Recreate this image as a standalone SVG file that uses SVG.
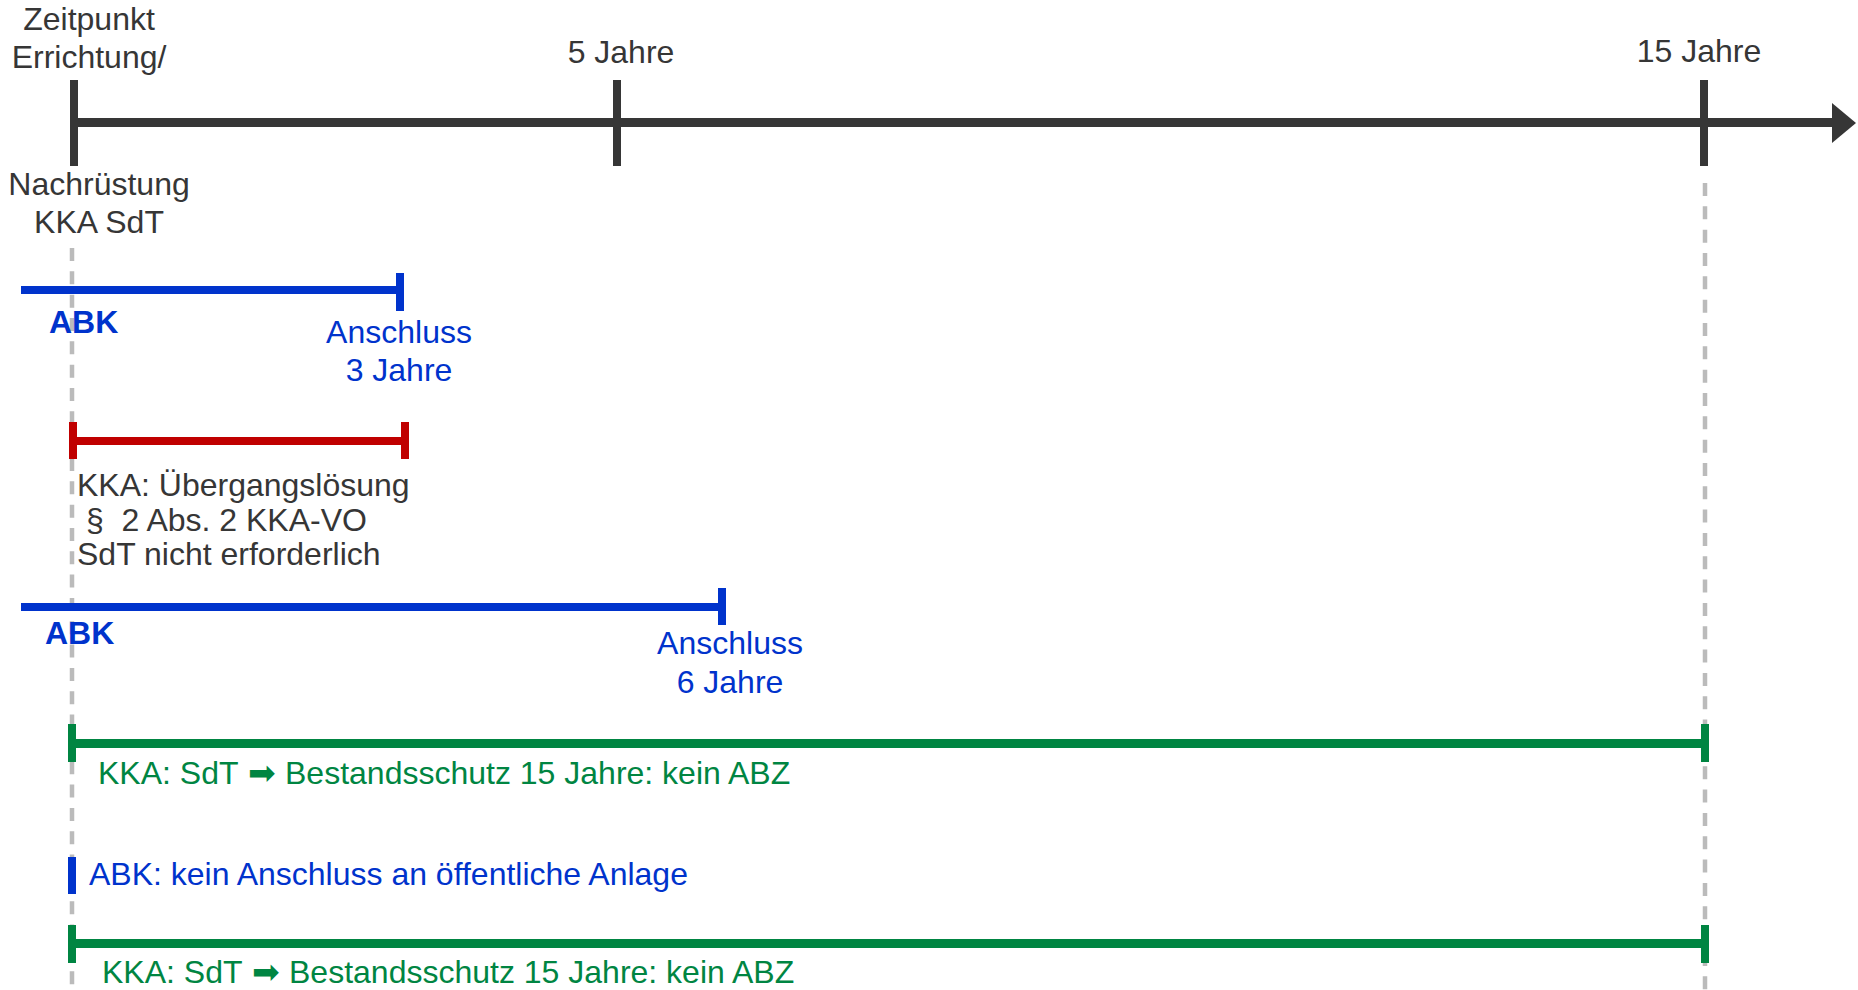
<svg xmlns="http://www.w3.org/2000/svg" width="1858" height="990" viewBox="0 0 1858 990">
  <style>
    text { font-family: "Liberation Sans", Arial, sans-serif; font-size: 32px; }
    .dark { fill: #363636; }
    .blue { fill: #0033cc; }
    .green { fill: #008542; }
    .bold { font-weight: bold; }
    .mid { text-anchor: middle; }
    .arrow { font-family: "DejaVu Sans", sans-serif; font-size: 33px; }
    .guide { stroke: #bbbbbb; stroke-width: 4.5; stroke-dasharray: 13 10.33; fill: none; }
    .axis { fill: #363636; }
    .b { fill: #0033cc; }
    .r { fill: #c00000; }
    .g { fill: #008542; }
  </style>

  <!-- vertical reference guides at start and 15 years -->
  <g id="connectors">
    <line class="guide" x1="72" y1="248" x2="72" y2="990"/>
    <line class="guide" x1="1705" y1="183" x2="1705" y2="990"/>
  </g>

  <!-- time axis -->
  <g id="axis">
    <rect class="axis" x="70" y="118" width="1766" height="9"/>
    <polygon class="axis" points="1832,103 1856,123 1832,143"/>
    <rect class="axis" x="70" y="80" width="8" height="86"/>
    <rect class="axis" x="613" y="80" width="8" height="86"/>
    <rect class="axis" x="1700" y="80" width="8" height="86"/>
    <text class="dark mid" x="89" y="30">Zeitpunkt</text>
    <text class="dark mid" x="89" y="68">Errichtung/</text>
    <text class="dark mid" x="99" y="195">Nachrüstung</text>
    <text class="dark mid" x="99" y="233">KKA SdT</text>
    <text class="dark mid" x="621" y="63">5 Jahre</text>
    <text class="dark mid" x="1699" y="62">15 Jahre</text>
  </g>

  <!-- ABK connection within 3 years -->
  <g id="abk-3">
    <rect class="b" x="21" y="286" width="382" height="8"/>
    <rect class="b" x="396" y="273" width="8" height="38"/>
    <text class="blue bold" x="49" y="333">ABK</text>
    <text class="blue mid" x="399" y="343">Anschluss</text>
    <text class="blue mid" x="399" y="381">3 Jahre</text>
  </g>

  <!-- KKA transitional solution -->
  <g id="kka-uebergang">
    <rect class="r" x="69" y="437" width="340" height="8"/>
    <rect class="r" x="69" y="422" width="8" height="37"/>
    <rect class="r" x="401" y="422" width="8" height="37"/>
    <text class="dark" x="77" y="496">KKA: Übergangslösung</text>
    <text class="dark" x="77" y="531" xml:space="preserve"> §  2 Abs. 2 KKA-VO</text>
    <text class="dark" x="77" y="565">SdT nicht erforderlich</text>
  </g>

  <!-- ABK connection within 6 years -->
  <g id="abk-6">
    <rect class="b" x="21" y="603" width="704" height="8"/>
    <rect class="b" x="718" y="588" width="8" height="37"/>
    <text class="blue bold" x="45" y="644">ABK</text>
    <text class="blue mid" x="730" y="654">Anschluss</text>
    <text class="blue mid" x="730" y="693">6 Jahre</text>
  </g>

  <!-- KKA with SdT: 15 years protection -->
  <g id="kka-sdt-1">
    <rect class="g" x="68" y="739" width="1641" height="9"/>
    <rect class="g" x="68" y="724" width="8" height="38"/>
    <rect class="g" x="1701" y="724" width="8" height="38"/>
    <text class="green" y="784"><tspan x="98">KKA: SdT</tspan><tspan class="arrow" x="248">➡</tspan><tspan x="285">Bestandsschutz 15 Jahre: kein ABZ</tspan></text>
  </g>

  <!-- ABK without public connection -->
  <g id="abk-none">
    <rect class="b" x="68" y="857" width="8" height="37"/>
    <text class="blue" x="89" y="885">ABK: kein Anschluss an öffentliche Anlage</text>
  </g>

  <!-- KKA with SdT: 15 years protection (second case) -->
  <g id="kka-sdt-2">
    <rect class="g" x="68" y="939" width="1641" height="9"/>
    <rect class="g" x="68" y="925" width="8" height="38"/>
    <rect class="g" x="1701" y="925" width="8" height="38"/>
    <text class="green" y="983"><tspan x="102">KKA: SdT</tspan><tspan class="arrow" x="252">➡</tspan><tspan x="289">Bestandsschutz 15 Jahre: kein ABZ</tspan></text>
  </g>
</svg>
